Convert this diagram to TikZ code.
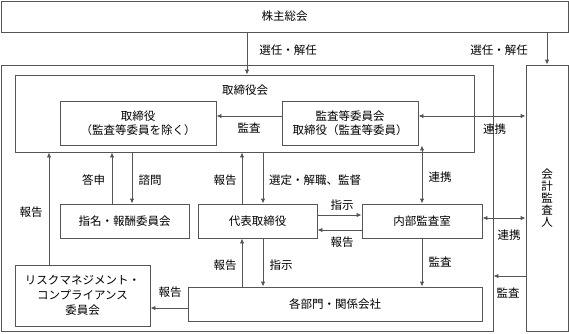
\documentclass[tikz,border=0pt]{standalone}
\usepackage{fontspec}
\setmainfont{Noto Sans CJK JP}
\usetikzlibrary{arrows.meta}
\definecolor{ln}{HTML}{555555}
\tikzset{
  box/.style={draw=ln, line width=0.9bp, inner sep=0pt, align=center, font=\fs},
  arr/.style={draw=ln, line width=0.9bp, -{Latex[length=5bp,width=4.5bp]}},
  darr/.style={draw=ln, line width=0.9bp, {Latex[length=5bp,width=4.5bp]}-{Latex[length=5bp,width=4.5bp]}},
  lbl/.style={inner sep=1pt, font=\fs},
}
\newcommand{\fs}{\fontsize{11.5bp}{14bp}\selectfont}
\begin{document}
\begin{tikzpicture}[x=1bp,y=-1bp]
\useasboundingbox (0,0) rectangle (569,333);
% boxes
\node[box, minimum width=567bp, minimum height=31bp] (top) at (284.5,16.5) {株主総会};
\node[box, minimum width=492bp, minimum height=266bp] (outer) at (247,198) {};
\node[box, minimum width=459bp, minimum height=77bp] (board) at (244.5,113.5) {};
\node[lbl] (boardlbl) at (245,90) {取締役会};
\node[box, minimum width=156bp, minimum height=44bp] (dir) at (138,123) {取締役\\（監査等委員を除く）};
\node[box, minimum width=136bp, minimum height=44bp] (acm) at (350,123) {監査等委員会\\取締役（監査等委員）};
\node[box, minimum width=42bp, minimum height=266bp, font=\fontsize{11.5bp}{12bp}\selectfont] (aud) at (547,198) {会\\計\\監\\査\\人};
\node[box, minimum width=129bp, minimum height=34bp] (nom) at (124.5,221) {指名・報酬委員会};
\node[box, minimum width=119bp, minimum height=34bp] (rep) at (257.5,221) {代表取締役};
\node[box, minimum width=120bp, minimum height=34bp] (iad) at (422,221) {内部監査室};
\node[box, minimum width=294bp, minimum height=34bp] (dept) at (335,304) {各部門・関係会社};
\node[box, minimum width=135bp, minimum height=61bp, font=\fontsize{11.5bp}{15bp}\selectfont] (risk) at (82.5,295.5) {リスクマネジメント・\\コンプライアンス\\委員会};
% helper x/y positions
\coordinate (x49) at (49,0);
\coordinate (x112) at (112,0);
\coordinate (x132) at (132,0);
\coordinate (x242) at (242,0);
\coordinate (x247) at (247,0);
\coordinate (x263) at (263,0);
\coordinate (x422) at (422,0);
\coordinate (x547) at (547,0);
\coordinate (y116) at (0,116);
\coordinate (y215) at (0,215);
\coordinate (y218) at (0,218);
\coordinate (y230) at (0,230);
\coordinate (y276) at (0,276);
\coordinate (y308) at (0,308);
% connectors
\draw[arr] (top.south -| x247) -- (board.north -| x247);
\node[lbl] at (288,50) {選任・解任};
\draw[arr] (top.south -| x547) -- (aud.north -| x547);
\node[lbl] at (499,50) {選任・解任};
\draw[arr] (acm.west |- y116) -- (dir.east |- y116);
\node[lbl] at (249,128) {監査};
\draw[darr] (acm.east |- y116) -- (aud.west |- y116);
\node[lbl] at (494.5,129) {連携};
\draw[arr] (risk.north -| x49) -- (board.south -| x49);
\node[lbl] at (31,212) {報告};
\draw[arr] (nom.north -| x112) -- (board.south -| x112);
\node[lbl] at (93.5,180) {答申};
\draw[arr] (board.south -| x132) -- (nom.north -| x132);
\node[lbl] at (150,180) {諮問};
\draw[arr] (rep.north -| x242) -- (board.south -| x242);
\node[lbl] at (225,180) {報告};
\draw[arr] (board.south -| x263) -- (rep.north -| x263);
\node[lbl, anchor=west, inner sep=0pt] at (269,180) {選定・解職、監督};
\draw[darr] (acm.south -| x422) -- (iad.north -| x422);
\node[lbl] at (440,177) {連携};
\draw[arr] (rep.east |- y215) -- (iad.west |- y215);
\node[lbl] at (342,205) {指示};
\draw[arr] (iad.west |- y230) -- (rep.east |- y230);
\node[lbl] at (342,242) {報告};
\draw[darr] (iad.east |- y218) -- (aud.west |- y218);
\node[lbl] at (509,235) {連携};
\draw[arr] (iad.south -| x422) -- (dept.north -| x422);
\node[lbl] at (440,262) {監査};
\draw[arr] (dept.north -| x242) -- (rep.south -| x242);
\node[lbl] at (225,265) {報告};
\draw[arr] (rep.south -| x263) -- (dept.north -| x263);
\node[lbl] at (281,265) {指示};
\draw[arr] (dept.west |- y308) -- (risk.east |- y308);
\node[lbl] at (170,292) {報告};
\draw[arr] (aud.west |- y276) -- (outer.east |- y276);
\node[lbl] at (508,293) {監査};
\end{tikzpicture}
\end{document}
